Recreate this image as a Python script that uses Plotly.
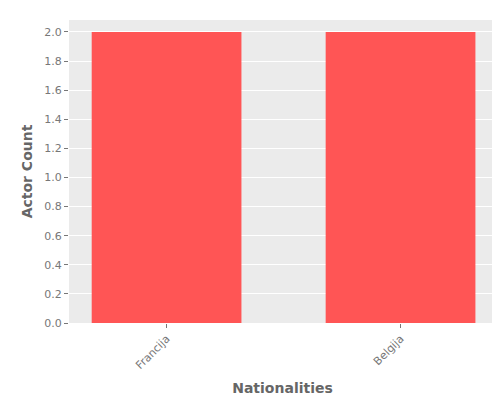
import plotly.graph_objects as go

nationalities = ["Francija", "Belgija"]
actor_counts = [2, 2]

fig = go.Figure()
fig.add_trace(go.Bar(x=nationalities, y=actor_counts, marker_color="#FF5555",
                     marker_line_width=0, width=0.64))

fig.update_layout(
    width=500, height=400,
    margin=dict(l=61, r=12, t=12, b=85, pad=0),
    plot_bgcolor="#EBEBEB", paper_bgcolor="white",
    font=dict(family="DejaVu Sans", size=11, color="#777777"),
    showlegend=False,
)
fig.update_xaxes(title_text="<b>Nationalities</b>", title_font=dict(size=14, color="#666666"),
                 tickangle=-45, range=[-0.417, 1.408], showgrid=False, automargin=False,
                 ticks="outside", ticklen=4, tickcolor="#777777", title_standoff=12)
fig.update_yaxes(title_text="<b>Actor Count</b>", title_font=dict(size=14, color="#666666"),
                 range=[0, 2.082], dtick=0.2, tickformat=".1f", gridcolor="white",
                 automargin=False, zeroline=False, ticks="outside", ticklen=4,
                 tickcolor="#777777", title_standoff=8)

fig.write_html("out.html")
